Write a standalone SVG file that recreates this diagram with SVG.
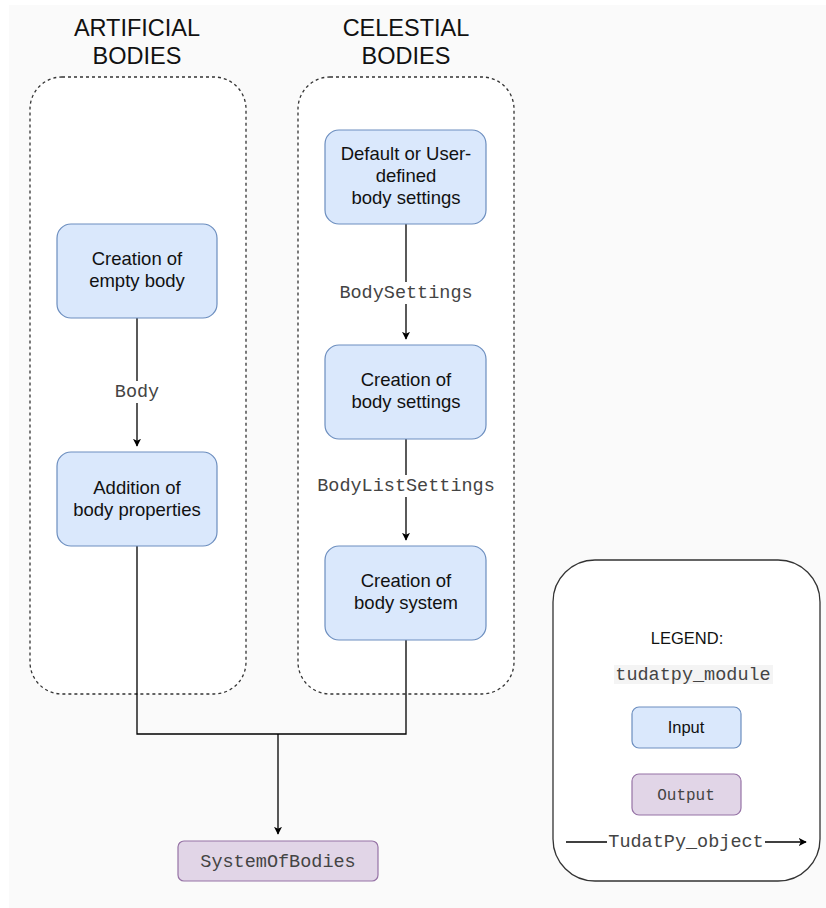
<svg xmlns="http://www.w3.org/2000/svg" width="826" height="908" viewBox="0 0 826 908">
  <defs>
    <marker id="arrow" viewBox="0 0 10 10" refX="9" refY="5" markerWidth="8" markerHeight="8" markerUnits="userSpaceOnUse" orient="auto">
      <path d="M0,0 L10,5 L0,10 L2.5,5 Z" fill="#000"/>
    </marker>
    <style>
      .title { font-family: "Liberation Sans", Arial, sans-serif; font-size: 23.5px; fill: #111; text-anchor: middle; }
      .group { fill: #ffffff; stroke: #333; stroke-width: 1.3; stroke-dasharray: 3 3; }
      .input { fill: #dae8fc; stroke: #6c8ebf; stroke-width: 1.2; }
      .output { fill: #e1d5e7; stroke: #9673a6; stroke-width: 1.2; }
      .label { font-family: "Liberation Sans", Arial, sans-serif; font-size: 18.5px; fill: #111; text-anchor: middle; }
      .code { font-family: "Liberation Mono", "Courier New", monospace; font-size: 18.5px; fill: #444; text-anchor: middle; }
      .edge { fill: none; stroke: #000; stroke-width: 1.3; }
      .elabel { fill: #ffffff; }
    </style>
  </defs>

  <!-- canvas -->
  <rect x="0" y="0" width="826" height="908" fill="#ffffff"/>
  <rect x="9" y="5" width="817" height="903" fill="#fafafa"/>

  <!-- column titles -->
  <text class="title" x="137" y="36">ARTIFICIAL</text>
  <text class="title" x="137" y="64">BODIES</text>
  <text class="title" x="406" y="36">CELESTIAL</text>
  <text class="title" x="406" y="64">BODIES</text>

  <!-- dashed group containers -->
  <rect id="artificial-group" class="group" x="30" y="77" width="216" height="617" rx="32" ry="32"/>
  <rect id="celestial-group" class="group" x="298" y="77" width="216" height="617" rx="32" ry="32"/>

  <!-- connectors -->
  <g id="connectors">
    <path class="edge" d="M137,318 V446" marker-end="url(#arrow)"/>
    <rect class="elabel" x="110" y="381" width="56" height="22"/>
    <text class="code" x="137" y="397">Body</text>

    <path class="edge" d="M406,224 V339" marker-end="url(#arrow)"/>
    <rect class="elabel" x="334" y="282" width="144" height="22"/>
    <text class="code" x="406" y="298">BodySettings</text>

    <path class="edge" d="M406,439 V540" marker-end="url(#arrow)"/>
    <rect class="elabel" x="314" y="475" width="184" height="22"/>
    <text class="code" x="406" y="491">BodyListSettings</text>

    <path class="edge" d="M137,546 V734 H406 V640"/>
    <path class="edge" d="M278,734 V834" marker-end="url(#arrow)"/>
  </g>

  <!-- artificial bodies -->
  <g id="empty-body">
    <rect class="input" x="57" y="224" width="160" height="94" rx="14"/>
    <text class="label" x="137" y="265">Creation of</text>
    <text class="label" x="137" y="287">empty body</text>
  </g>
  <g id="body-properties">
    <rect class="input" x="57" y="452" width="160" height="94" rx="14"/>
    <text class="label" x="137" y="494">Addition of</text>
    <text class="label" x="137" y="516">body properties</text>
  </g>

  <!-- celestial bodies -->
  <g id="default-settings">
    <rect class="input" x="325" y="130" width="161" height="94" rx="14"/>
    <text class="label" x="406" y="160">Default or User-</text>
    <text class="label" x="406" y="182">defined</text>
    <text class="label" x="406" y="204">body settings</text>
  </g>
  <g id="body-settings">
    <rect class="input" x="325" y="345" width="161" height="94" rx="14"/>
    <text class="label" x="406" y="386">Creation of</text>
    <text class="label" x="406" y="408">body settings</text>
  </g>
  <g id="body-system">
    <rect class="input" x="325" y="546" width="161" height="94" rx="14"/>
    <text class="label" x="406" y="587">Creation of</text>
    <text class="label" x="406" y="609">body system</text>
  </g>

  <!-- result -->
  <g id="system-of-bodies">
    <rect class="output" x="178" y="841" width="200" height="40" rx="6"/>
    <text class="code" x="278" y="867">SystemOfBodies</text>
  </g>

  <!-- legend -->
  <g id="legend">
    <rect x="553" y="560" width="267" height="321" rx="42" fill="#ffffff" stroke="#333" stroke-width="1.3"/>
    <text class="label" x="687" y="644" style="font-size:16.5px">LEGEND:</text>
    <rect x="614" y="665" width="159" height="19" fill="#f4f4f4"/>
    <text class="code" x="693" y="680">tudatpy_module</text>
    <rect class="input" x="632" y="707" width="109" height="41" rx="7"/>
    <text class="label" x="686" y="733" style="font-size:16.5px">Input</text>
    <rect class="output" x="632" y="774" width="109" height="41" rx="7"/>
    <text class="code" x="686" y="800" style="font-size:16px">Output</text>
    <path class="edge" d="M566,842 H806" marker-end="url(#arrow)"/>
    <rect x="607" y="831" width="158" height="22" fill="#ffffff"/>
    <text class="code" x="686" y="847">TudatPy_object</text>
  </g>
</svg>
